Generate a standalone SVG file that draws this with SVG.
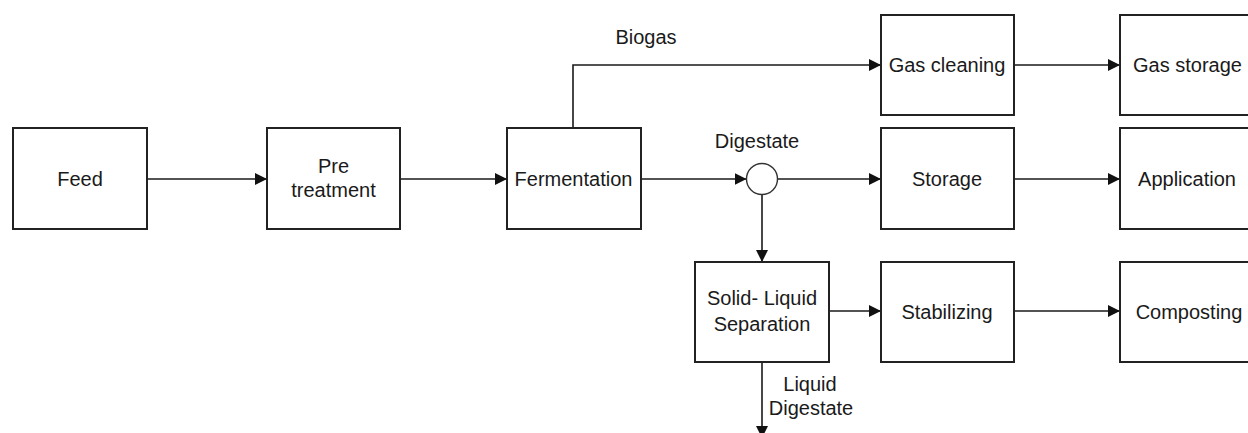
<svg xmlns="http://www.w3.org/2000/svg" width="1248" height="433" viewBox="0 0 1248 433">
  <defs>
    <marker id="arr" viewBox="0 0 12 12" refX="12" refY="6" markerWidth="12" markerHeight="12" markerUnits="userSpaceOnUse" orient="auto">
      <path d="M0,0 L12,6 L0,12 Z" fill="#111"/>
    </marker>
  </defs>
  <style>
    .box { fill: #ffffff; stroke: #222; stroke-width: 2; }
    .lbl { font-family: "Liberation Sans", Arial, sans-serif; font-size: 20px; fill: #1a1a1a; text-anchor: middle; }
    .edge { fill: none; stroke: #1a1a1a; stroke-width: 1.6; marker-end: url(#arr); }
    .junction { fill: #ffffff; stroke: #333; stroke-width: 1.4; }
  </style>
  <rect width="1248" height="433" fill="#ffffff"/>

  <g id="connectors">
    <path class="edge" d="M147,179 H267"/>
    <path class="edge" d="M400,179 H507"/>
    <path class="edge" d="M641,179 H746.5"/>
    <path class="edge" d="M777.5,179 H881"/>
    <path class="edge" d="M1014,179 H1120"/>
    <path class="edge" d="M573,128 V65 H881"/>
    <path class="edge" d="M1014,65 H1120"/>
    <path class="edge" d="M762,194.5 V262"/>
    <path class="edge" d="M829,311 H881"/>
    <path class="edge" d="M1014,311 H1120"/>
    <path class="edge" d="M762,362 V438"/>
  </g>

  <g id="feed">
    <rect class="box" x="13" y="128" width="134" height="101"/>
    <text class="lbl" x="80" y="186">Feed</text>
  </g>
  <g id="pretreatment">
    <rect class="box" x="267" y="128" width="133" height="101"/>
    <text class="lbl" x="333.5" y="173">Pre</text>
    <text class="lbl" x="333.5" y="197">treatment</text>
  </g>
  <g id="fermentation">
    <rect class="box" x="507" y="128" width="134" height="101"/>
    <text class="lbl" x="573.5" y="186">Fermentation</text>
  </g>
  <g id="biogas-label">
    <text class="lbl" x="646" y="44">Biogas</text>
  </g>
  <g id="digestate-junction">
    <circle class="junction" cx="762" cy="179" r="15.5"/>
    <text class="lbl" x="757" y="148">Digestate</text>
  </g>
  <g id="gas-cleaning">
    <rect class="box" x="881" y="15" width="133" height="100"/>
    <text class="lbl" x="947" y="72">Gas cleaning</text>
  </g>
  <g id="gas-storage">
    <rect class="box" x="1120" y="15" width="134" height="100"/>
    <text class="lbl" x="1187.5" y="72">Gas storage</text>
  </g>
  <g id="storage">
    <rect class="box" x="881" y="128" width="133" height="101"/>
    <text class="lbl" x="947" y="186">Storage</text>
  </g>
  <g id="application">
    <rect class="box" x="1120" y="128" width="134" height="101"/>
    <text class="lbl" x="1187" y="186">Application</text>
  </g>
  <g id="solid-liquid-separation">
    <rect class="box" x="695" y="262" width="134" height="100"/>
    <text class="lbl" x="762" y="305">Solid- Liquid</text>
    <text class="lbl" x="762" y="331">Separation</text>
  </g>
  <g id="stabilizing">
    <rect class="box" x="881" y="262" width="133" height="100"/>
    <text class="lbl" x="947" y="319">Stabilizing</text>
  </g>
  <g id="composting">
    <rect class="box" x="1120" y="262" width="134" height="100"/>
    <text class="lbl" x="1189" y="319">Composting</text>
  </g>
  <g id="liquid-digestate-label">
    <text class="lbl" x="810" y="391">Liquid</text>
    <text class="lbl" x="811" y="415">Digestate</text>
  </g>
</svg>
